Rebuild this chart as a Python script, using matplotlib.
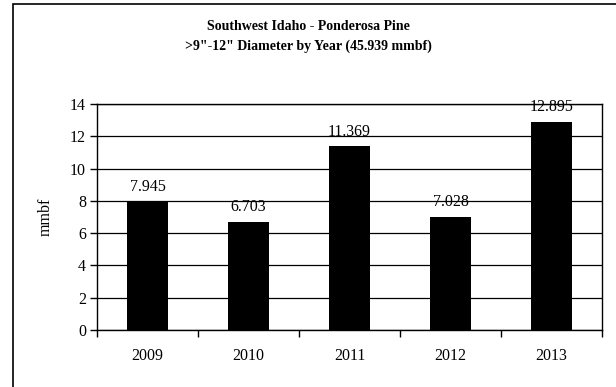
import matplotlib.pyplot as plt
from matplotlib import patches

years = ["2009", "2010", "2011", "2012", "2013"]
values = [7.945, 6.703, 11.369, 7.028, 12.895]
value_labels = ["7.945", "6.703", "11.369", "7.028", "12.895"]
yticks = [0, 2, 4, 6, 8, 10, 12, 14]

plt.rcParams['font.family'] = ['Liberation Serif', 'DejaVu Serif']

W, H = 616, 387
fig = plt.figure(figsize=(W / 100, H / 100), dpi=100)

# outer chart border (right and bottom edges fall outside the image)
fig.patches.append(patches.Rectangle((12.5 / W, -0.1), 1, 1.1 - 4.5 / H, transform=fig.transFigure,
                                     fill=False, edgecolor="black", linewidth=1.2))

ax = fig.add_axes([97 / W, 1 - 330 / H, (602 - 97) / W, (330 - 104) / H])
x = range(len(years))
ax.bar(x, values, width=0.41, color="black", zorder=3)
ax.set_xlim(-0.5, len(years) - 0.5)
ax.set_ylim(0, 14)
ax.set_yticks(yticks)
ax.set_yticklabels([str(t) for t in yticks], fontsize=11.5)
ax.yaxis.grid(True, color="black", linewidth=0.9, zorder=0)

ax.set_xticks([i - 0.5 for i in range(len(years) + 1)])
ax.set_xticklabels([])
ax.set_xticks(list(x), minor=True)
ax.set_xticklabels(years, minor=True, fontsize=11.5)
ax.tick_params(axis="x", which="minor", length=0, pad=13)
ax.tick_params(axis="x", which="major", length=5, width=1, direction="out")
ax.tick_params(axis="y", length=5, width=1, direction="out", pad=3)

for s in ax.spines.values():
    s.set_linewidth(1)

for i, (v, lab) in enumerate(zip(values, value_labels)):
    ax.text(i, v + 0.4, lab, ha="center", va="bottom", fontsize=11.5)

ax.set_ylabel("mmbf", fontsize=11.5, labelpad=12)

fig.text(308 / W, 1 - 27 / H, "Southwest Idaho - Ponderosa Pine", ha="center", va="center",
         fontsize=10, fontweight="bold")
fig.text(308 / W, 1 - 46 / H, '>9"-12" Diameter by Year (45.939 mmbf)', ha="center", va="center",
         fontsize=10, fontweight="bold")

fig.savefig("out.png", dpi=100)
